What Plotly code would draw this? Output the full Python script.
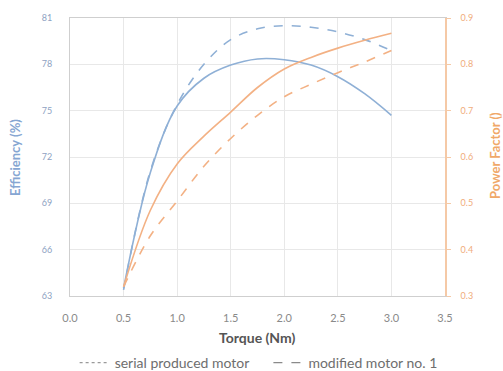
import plotly.graph_objects as go

torque = [0.5, 0.75, 1.0, 1.25, 1.5, 1.75, 2.0, 2.25, 2.5, 2.75, 3.0]
eff_serial = [63.5, 71.0, 75.3, 77.1, 77.95, 78.35, 78.3, 77.95, 77.2, 76.1, 74.7]
eff_modified = [63.4, 71.1, 75.4, 78.0, 79.6, 80.3, 80.5, 80.4, 80.1, 79.6, 78.9]
pf_serial = [0.32, 0.485, 0.585, 0.645, 0.697, 0.75, 0.79, 0.815, 0.835, 0.852, 0.867]
pf_modified = [0.32, 0.43, 0.505, 0.58, 0.64, 0.69, 0.73, 0.757, 0.782, 0.805, 0.83]

x_ticks = [0.0, 0.5, 1.0, 1.5, 2.0, 2.5, 3.0, 3.5]
eff_ticks = [63, 66, 69, 72, 75, 78, 81]
pf_ticks = [0.3, 0.4, 0.5, 0.6, 0.7, 0.8, 0.9]

BLUE = "#8fb0d6"
ORANGE = "#f3b184"
FONT = "Lato"

fig = go.Figure()
fig.add_trace(go.Scatter(x=torque, y=eff_serial, mode="lines", line=dict(color=BLUE, width=1.6, shape="spline"), showlegend=False))
fig.add_trace(go.Scatter(x=torque, y=eff_modified, mode="lines", line=dict(color=BLUE, width=1.6, dash="dash", shape="spline"), showlegend=False))
fig.add_trace(go.Scatter(x=torque, y=pf_serial, mode="lines", line=dict(color=ORANGE, width=1.6, shape="spline"), yaxis="y2", showlegend=False))
fig.add_trace(go.Scatter(x=torque, y=pf_modified, mode="lines", line=dict(color=ORANGE, width=1.6, dash="dash", shape="spline"), yaxis="y2", showlegend=False))
# legend entries (line style only)
fig.add_trace(go.Scatter(x=[None], y=[None], mode="lines", line=dict(color="#9a9a9a", width=1.2, dash="dot"),
                         name="serial produced motor&nbsp;&nbsp;&nbsp;&nbsp;"))
fig.add_trace(go.Scatter(x=[None], y=[None], mode="lines", line=dict(color="#8a8a8a", width=1.2, dash="dash"),
                         name="modified motor no. 1"))

fig.update_layout(
    width=503, height=371,
    margin=dict(l=70, r=58, t=18, b=75, autoexpand=False),
    paper_bgcolor="white", plot_bgcolor="white",
    font=dict(family=FONT, size=9, color="#888888"),
    xaxis=dict(range=[0, 3.5], tickvals=x_ticks, ticktext=[f"{v:.1f}" for v in x_ticks],
               showgrid=True, gridcolor="#e8e8e8", gridwidth=1, automargin=False,
               showline=True, linecolor="#cfcfcf", mirror=True, zeroline=False,
               tickfont=dict(size=11, color="#8a8a8a"), ticks="", ticklabelstandoff=12),
    yaxis=dict(range=[63, 81], tickvals=eff_ticks, showgrid=True, gridcolor="#e8e8e8", automargin=False,
               showline=True, linecolor="#cfcfcf", zeroline=False, ticks="",
               tickfont=dict(size=9, color="#8ea2c2"), ticklabelstandoff=15),
    yaxis2=dict(range=[0.3, 0.9], tickvals=pf_ticks, overlaying="y", side="right", automargin=False,
                showgrid=False, showline=True, linecolor="#f5c9a6", linewidth=1.5, zeroline=False,
                ticks="outside", ticklen=4, tickcolor="#f5c9a6",
                tickfont=dict(size=9, color="#f0ac7c"), ticklabelstandoff=8),
    legend=dict(orientation="h", x=0.503, xanchor="center", y=-0.241, yanchor="middle",
                font=dict(size=14, color="#6e6e6e"), bgcolor="rgba(0,0,0,0)"),
    showlegend=True,
    annotations=[
        dict(text="<b>Torque (Nm)</b>", xref="paper", yref="paper", x=0.5, y=-0.1475,
             showarrow=False, xanchor="center", yanchor="middle", font=dict(size=14, color="#555555", family=FONT)),
        dict(text="<b>Efficiency (%)</b>", xref="paper", yref="paper", x=-0.1467, y=0.5, textangle=-90,
             showarrow=False, xanchor="center", yanchor="middle", font=dict(size=13, color="#86a6d2", family=FONT)),
        dict(text="<b>Power Factor ()</b>", xref="paper", yref="paper", x=1.133, y=0.507, textangle=-90,
             showarrow=False, xanchor="center", yanchor="middle", font=dict(size=13, color="#f0a868", family=FONT)),
    ],
)

fig.write_html("out.html", config={"displayModeBar": False},
               post_script="document.body.style.margin='0';document.body.style.overflow='hidden';")
